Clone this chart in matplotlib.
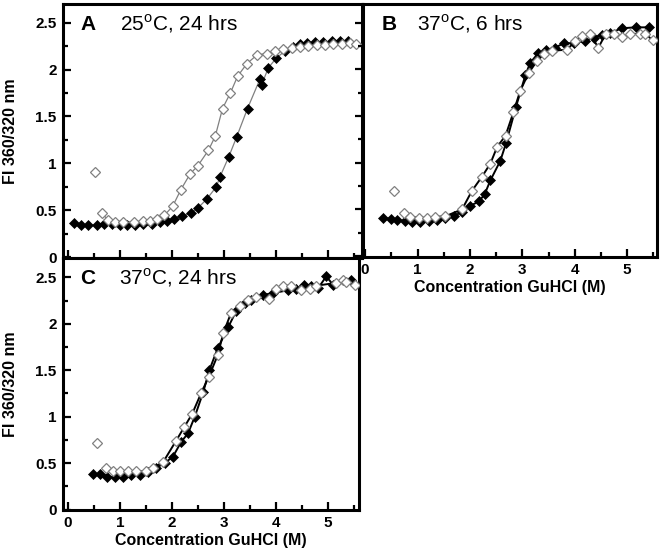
import matplotlib
matplotlib.use("Agg")
import matplotlib.pyplot as plt
from matplotlib.ticker import MultipleLocator

plt.rcParams['font.family'] = ['Liberation Sans', 'DejaVu Sans']
plt.rcParams['mathtext.fontset'] = 'custom'
plt.rcParams['mathtext.rm'] = 'Liberation Sans'

# Panel A: 25 C, 24 hrs
a_fill_x = [0.12, 0.25, 0.39, 0.55, 0.69, 0.84, 0.99, 1.13, 1.29, 1.45, 1.61, 1.77, 1.90, 2.04,
            2.19, 2.36, 2.49, 2.67, 2.85, 2.92, 3.09, 3.24, 3.45, 3.69, 3.72, 3.85, 4.00, 4.17,
            4.33, 4.46, 4.59, 4.75, 4.90, 5.07, 5.23, 5.39]
a_fill_y = [0.363, 0.345, 0.338, 0.345, 0.356, 0.35, 0.345, 0.338, 0.345, 0.35, 0.356, 0.37, 0.385, 0.41,
            0.435, 0.47, 0.52, 0.62, 0.75, 0.855, 1.07, 1.28, 1.585, 1.90, 1.835, 2.02, 2.12, 2.20,
            2.24, 2.27, 2.286, 2.29, 2.29, 2.30, 2.31, 2.31]
a_open_x = [0.51, 0.65, 0.76, 0.90, 1.06, 1.26, 1.44, 1.58, 1.71, 1.85, 2.01, 2.17, 2.35, 2.49,
            2.70, 2.83, 2.97, 3.12, 3.26, 3.44, 3.64, 3.82, 3.98, 4.14, 4.30, 4.46, 4.62, 4.78,
            4.94, 5.10, 5.26, 5.42, 5.54]
a_open_y = [0.905, 0.47, 0.40, 0.375, 0.375, 0.375, 0.385, 0.39, 0.41, 0.445, 0.54, 0.72, 0.89, 0.97,
            1.14, 1.29, 1.585, 1.75, 1.93, 2.065, 2.16, 2.17, 2.20, 2.215, 2.23, 2.24, 2.25, 2.26,
            2.26, 2.27, 2.275, 2.28, 2.27]

# Panel B: 37 C, 6 hrs
b_fill_x = [0.35, 0.50, 0.61, 0.76, 0.90, 1.05, 1.22, 1.37, 1.53, 1.69, 1.85, 2.01, 2.17, 2.28,
            2.39, 2.58, 2.69, 2.88, 3.06, 3.15, 3.30, 3.45, 3.62, 3.79, 3.98, 4.20, 4.36, 4.52,
            4.68, 4.90, 5.16, 5.41]
b_fill_y = [0.408, 0.397, 0.383, 0.372, 0.362, 0.362, 0.372, 0.383, 0.408, 0.433, 0.468, 0.539, 0.585, 0.66,
            0.81, 1.02, 1.21, 1.60, 1.94, 2.07, 2.17, 2.21, 2.23, 2.28, 2.28, 2.305, 2.34, 2.37,
            2.39, 2.44, 2.45, 2.45]
b_open_x = [0.56, 0.75, 0.86, 1.02, 1.18, 1.34, 1.53, 1.85, 2.04, 2.23, 2.39, 2.52, 2.68, 2.83,
            2.96, 3.12, 3.28, 3.41, 3.57, 3.85, 4.01, 4.14, 4.30, 4.45, 4.59, 4.75, 4.90, 5.06,
            5.25, 5.35, 5.49]
b_open_y = [0.70, 0.46, 0.42, 0.41, 0.41, 0.42, 0.426, 0.50, 0.70, 0.85, 0.99, 1.17, 1.29, 1.54,
            1.77, 1.96, 2.09, 2.16, 2.20, 2.21, 2.30, 2.36, 2.38, 2.23, 2.38, 2.38, 2.35, 2.38,
            2.38, 2.38, 2.31]

# Panel C: 37 C, 24 hrs
c_fill_x = [0.48, 0.61, 0.75, 0.90, 1.06, 1.22, 1.38, 1.54, 1.70, 1.86, 2.02, 2.18, 2.31, 2.44,
            2.60, 2.72, 2.88, 3.08, 3.24, 3.40, 3.53, 3.75, 3.94, 4.23, 4.39, 4.55, 4.68, 4.81,
            4.97, 5.10, 5.45]
c_fill_y = [0.38, 0.38, 0.345, 0.35, 0.35, 0.37, 0.37, 0.40, 0.45, 0.50, 0.57, 0.73, 0.82, 1.00,
            1.26, 1.50, 1.735, 1.96, 2.14, 2.22, 2.26, 2.31, 2.33, 2.36, 2.37, 2.42, 2.41, 2.38,
            2.51, 2.42, 2.47]
c_open_x = [0.56, 0.74, 0.87, 1.01, 1.15, 1.31, 1.51, 1.63, 1.83, 2.08, 2.24, 2.39, 2.56, 2.71,
            2.88, 2.99, 3.14, 3.31, 3.46, 3.62, 3.87, 4.01, 4.13, 4.29, 4.49, 4.65, 4.78, 5.16,
            5.29, 5.35, 5.53]
c_open_y = [0.72, 0.45, 0.41, 0.41, 0.41, 0.41, 0.41, 0.45, 0.51, 0.74, 0.89, 1.03, 1.25, 1.43,
            1.66, 1.90, 2.12, 2.19, 2.26, 2.29, 2.27, 2.37, 2.41, 2.41, 2.36, 2.37, 2.41, 2.44,
            2.47, 2.45, 2.42]

panels = [
    ("A", "25$^{\\mathrm{o}}$C, 24 hrs", a_fill_x, a_fill_y, a_open_x, a_open_y),
    ("B", "37$^{\\mathrm{o}}$C, 6 hrs", b_fill_x, b_fill_y, b_open_x, b_open_y),
    ("C", "37$^{\\mathrm{o}}$C, 24 hrs", c_fill_x, c_fill_y, c_open_x, c_open_y),
]

fig = plt.figure(figsize=(6.6, 5.54), dpi=100)
W, H = 660, 554
# pixel boxes: left, top, right, bottom
boxes = {"A": (63, 4, 362, 258), "B": (363, 4, 657, 257), "C": (63, 258, 359, 510)}
xlims = {"A": (-0.096, 5.65), "B": (-0.04, 5.57), "C": (-0.096, 5.6)}
ylims = {"A": (-0.01, 2.70), "B": (-0.01, 2.70), "C": (-0.005, 2.708)}

for letter, title, fx, fy, ox, oy in panels:
    l, t, r, b = boxes[letter]
    ax = fig.add_axes([l / W, 1 - b / H, (r - l) / W, (b - t) / H])
    if letter == "A":
        lc, lw = "#808080", 0.9
    else:
        lc, lw = "black", 1.4
    ax.plot(fx, fy, "-", color=lc, lw=lw, zorder=1)
    ax.plot(ox[1:], oy[1:], "-", color=lc, lw=lw, zorder=1)
    ax.plot(fx, fy, "D", ms=4.8, mfc="black", mec="black", mew=0.5, ls="none", zorder=3)
    ax.plot(ox, oy, "D", ms=4.8, mfc="white", mec="#808080", mew=0.9, ls="none", zorder=4)

    ax.set_xlim(*xlims[letter])
    ax.set_ylim(*ylims[letter])
    ax.xaxis.set_major_locator(MultipleLocator(1))
    ax.xaxis.set_minor_locator(MultipleLocator(0.5))
    ax.yaxis.set_major_locator(MultipleLocator(0.5))
    ax.yaxis.set_minor_locator(MultipleLocator(0.25))
    ax.set_yticks([0, 0.5, 1, 1.5, 2, 2.5])
    ax.set_yticklabels(["0", "0.5", "1", "1.5", "2", "2.5"])
    ax.tick_params(which="both", direction="in", width=1.6, labelsize=11, pad=4.5)
    ax.tick_params(which="major", length=5.5)
    ax.tick_params(which="minor", length=3.3)
    if letter == "B":
        ax.tick_params(axis="y", which="both", direction="out", labelleft=False)
    for s in ax.spines.values():
        s.set_linewidth(2.2)
    for lab in ax.get_xticklabels() + ax.get_yticklabels():
        lab.set_fontweight("bold")

    if letter == "A":
        ax.tick_params(axis="x", labelbottom=False)
    if letter in ("A", "C"):
        ax.set_ylabel("FI 360/320 nm", fontsize=11.5, fontweight="bold")
        ax.yaxis.set_label_coords(-0.152, 0.5)
    if letter in ("B", "C"):
        ax.set_xlabel("Concentration GuHCl (M)", fontsize=11.5, fontweight="bold", labelpad=2)

    top_frac = 1 - (26 / (b - t))
    ax.text(0.057 if letter != "B" else 0.064, top_frac, letter, transform=ax.transAxes,
            fontsize=15, fontweight="bold", va="baseline", ha="left")
    ax.text(0.19 if letter != "B" else 0.183, top_frac, title, transform=ax.transAxes,
            fontsize=15, va="baseline", ha="left")

fig.savefig("out.png", dpi=100)
